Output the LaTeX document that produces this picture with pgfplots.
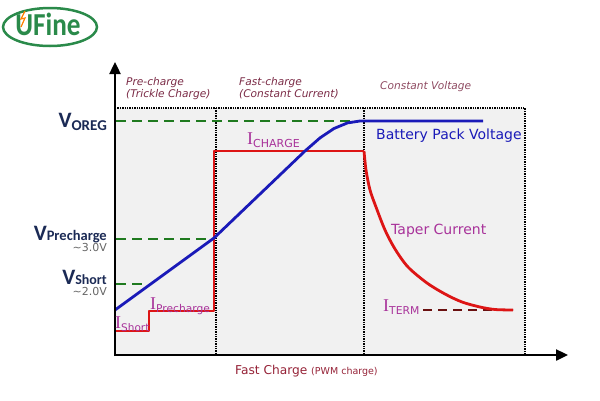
\documentclass[border=0pt]{standalone}
\usepackage{pgfplots}
\pgfplotsset{compat=1.18}
\usepackage{fontspec}
\setmainfont{DejaVu Sans}
\newfontfamily\serifI{Liberation Serif}
\newfontfamily\calib{Carlito}
\usetikzlibrary{arrows.meta}
\definecolor{cred}{HTML}{DD1515}
\definecolor{cblue}{HTML}{1A1AB8}
\definecolor{cgreen}{HTML}{1F7A1F}
\definecolor{cnavy}{HTML}{1B2A55}
\definecolor{cmag}{HTML}{A8329A}
\definecolor{cphase}{HTML}{7A2A45}
\definecolor{cterm}{HTML}{6A1010}
\definecolor{clogo}{HTML}{2A8A4A}
\definecolor{cbg}{HTML}{F1F1F1}
\newcommand{\fs}[1]{\fontsize{#1}{#1}\selectfont}
\newcommand{\Ilab}[2]{{\serifI\fs{18}I}\raisebox{-3pt}{\fs{#1}#2}}
\begin{document}
\begin{tikzpicture}[x=1pt,y=1pt]
\useasboundingbox (0,0) rectangle (600,400);
\begin{axis}[at={(0,0)},anchor=south west,scale only axis,width=600pt,height=400pt,
  xmin=0,xmax=600,ymin=0,ymax=400,y dir=reverse,hide axis,clip=false]
% background region
\addplot[fill=cbg,draw=none] coordinates {(115,108)(525,108)(525,355)(115,355)} -- cycle;
% dotted borders
\addplot[black,densely dotted,line width=1.4pt] coordinates {(115,108)(525,108)(525,355)};
\addplot[black,densely dotted,line width=1.4pt] coordinates {(216,108)(216,355)};
\addplot[black,densely dotted,line width=1.4pt] coordinates {(364,108)(364,355)};
% green dashed levels
\addplot[cgreen,line width=2.8pt,dash pattern=on 10pt off 6pt] coordinates {(116,121)(358,121)};
\addplot[cgreen,line width=2.8pt,dash pattern=on 10pt off 6pt] coordinates {(116,239)(214,239)};
\addplot[cgreen,line width=2.8pt,dash pattern=on 10pt off 6pt] coordinates {(116,284)(147,284)};
% I_TERM dashed
\addplot[cterm,line width=2.2pt,dash pattern=on 9pt off 6pt] coordinates {(423,310)(513,310)};
% red current
\addplot[cred,line width=2.8pt,line join=round] coordinates {(115,331)(149,331)(149,311)(214,311)(214,151)(364,151)};
\addplot[cred,line width=2.8pt,smooth] coordinates {(364,151)(366,170)(370,190)(376,207)(385,230)(395,249)(408,267)(427,283)(445,294)(462,302)(480,307)(495,309.5)(513,310)};
% blue voltage
\addplot[cblue,line width=2.8pt,line join=round] coordinates {(115,310)(214,238)(305,151)(320,137.9)(334,128.5)(347.5,122.9)(360,121)(483,121)};
% axes
\addplot[black,line width=2.4pt,-{Triangle[length=12pt,width=11pt]}] coordinates {(115,356)(115,62)};
\addplot[black,line width=2.4pt,-{Triangle[length=12pt,width=11pt]}] coordinates {(114,355)(568,355)};
% logo
\draw[clogo,line width=2.5pt] (axis cs:50,27) ellipse [x radius=47pt,y radius=19pt];
\node[clogo,anchor=base] at (axis cs:48,35) {\calib\bfseries\fs{32}\scalebox{0.85}[1]{UFine}};
\draw[orange,line width=1.2pt] (axis cs:25,11) -- (axis cs:21,19) -- (axis cs:25,18) -- (axis cs:21,27);
% phase labels
\node[cphase,anchor=base west,inner sep=0pt] at (axis cs:126,85) {\itshape\fs{10.6}Pre-charge};
\node[cphase,anchor=base west,inner sep=0pt] at (axis cs:126,97) {\itshape\fs{10.6}(Trickle Charge)};
\node[cphase,anchor=base west,inner sep=0pt] at (axis cs:239,85) {\itshape\fs{10.6}Fast-charge};
\node[cphase,anchor=base west,inner sep=0pt] at (axis cs:239,97) {\itshape\fs{10.6}(Constant Current)};
\node[cphase!85,anchor=base west,inner sep=0pt] at (axis cs:380,89) {\itshape\fs{10.6}Constant Voltage};
% V labels
\node[cnavy,anchor=base east,inner sep=0pt] at (axis cs:107,127) {\calib\bfseries\fs{22}V\raisebox{-3pt}{\fs{15}OREG}};
\node[cnavy,anchor=base east,inner sep=0pt] at (axis cs:107,240) {\calib\bfseries\fs{22}V\raisebox{-0.5pt}{\fs{14.5}Precharge}};
\node[gray!80!black,anchor=base east,inner sep=0pt] at (axis cs:107,251) {\fs{11}\char"007E 3.0V};
\node[cnavy,anchor=base east,inner sep=0pt] at (axis cs:107,284) {\calib\bfseries\fs{22}V\raisebox{-0.5pt}{\fs{14}Short}};
\node[gray!80!black,anchor=base east,inner sep=0pt] at (axis cs:107,295) {\fs{11}\char"007E 2.0V};
% I labels
\node[cmag,anchor=base west,inner sep=0pt] at (axis cs:115,328) {\Ilab{10.5}{Short}};
\node[cmag,anchor=base west,inner sep=0pt] at (axis cs:150,309) {\Ilab{10.7}{Precharge}};
\node[cmag,anchor=base west,inner sep=0pt] at (axis cs:247,144) {\Ilab{11}{CHARGE}};
\node[cmag,anchor=base west,inner sep=0pt] at (axis cs:383,311) {\Ilab{10.8}{TERM}};
% curve labels
\node[cblue,anchor=base west,inner sep=0pt] at (axis cs:376,139) {\fs{14}Battery Pack Voltage};
\node[cmag,anchor=base west,inner sep=0pt] at (axis cs:391,234) {\fs{14}Taper Current};
% x label
\node[cphase!80!red,anchor=base west,inner sep=0pt] at (axis cs:235,374) {\fs{12.2}Fast Charge \fs{9.5}(PWM charge)};
\end{axis}
\end{tikzpicture}
\end{document}
